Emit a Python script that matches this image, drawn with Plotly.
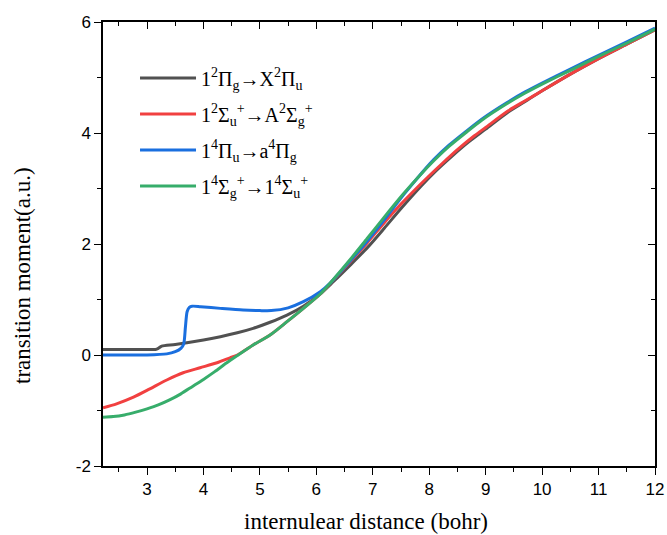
import plotly.graph_objects as go

# Transition dipole moments vs. internuclear distance (bohr)
r_pi2 = [2.22, 2.6, 3.0, 3.15, 3.2, 3.26, 3.5, 4.0, 4.3, 4.6, 4.88, 5.18, 5.48, 5.77, 6.07,
         6.3, 6.6, 6.9, 7.2, 7.5, 7.87, 8.1, 8.4, 8.7, 9.0, 9.4, 9.7, 10.0, 10.5, 11.0, 11.5, 12.0]
m_pi2 = [0.10, 0.10, 0.10, 0.10, 0.12, 0.16, 0.19, 0.27, 0.33, 0.40, 0.48, 0.59, 0.72, 0.88, 1.10,
         1.32, 1.62, 1.93, 2.28, 2.64, 3.06, 3.30, 3.58, 3.84, 4.07, 4.38, 4.57, 4.76, 5.06, 5.34,
         5.60, 5.86]

r_sig2 = [2.22, 2.46, 2.76, 3.05, 3.35, 3.64, 3.94, 4.24, 4.47, 4.6, 4.88, 5.18, 5.48, 5.77,
          6.07, 6.3, 6.6, 6.9, 7.2, 7.5, 7.69, 8.0, 8.23, 8.5, 8.8, 9.0, 9.4, 9.7, 10.0, 10.5,
          11.0, 11.5, 12.0]
m_sig2 = [-0.95, -0.88, -0.76, -0.61, -0.45, -0.32, -0.23, -0.14, -0.05, 0.0, 0.18, 0.36, 0.60,
          0.84, 1.10, 1.35, 1.68, 2.02, 2.38, 2.72, 2.92, 3.23, 3.45, 3.70, 3.95, 4.10, 4.40,
          4.58, 4.76, 5.06, 5.34, 5.60, 5.86]

r_pi4 = [2.22, 3.0, 3.35, 3.5, 3.6, 3.65, 3.68, 3.71, 3.75, 3.8, 3.95, 4.3, 4.7, 5.0, 5.2, 5.5,
         5.77, 6.07, 6.25, 6.5, 6.9, 7.2, 7.54, 7.8, 8.08, 8.35, 8.64, 8.93, 9.38, 9.7, 10.0,
         10.5, 11.0, 11.5, 12.0]
m_pi4 = [0.0, 0.0, 0.02, 0.06, 0.12, 0.20, 0.50, 0.78, 0.86, 0.88, 0.87, 0.84, 0.81, 0.80, 0.80,
         0.85, 0.96, 1.14, 1.30, 1.58, 2.05, 2.43, 2.88, 3.20, 3.52, 3.78, 4.02, 4.25, 4.55, 4.74,
         4.90, 5.15, 5.40, 5.64, 5.89]

r_sig4 = [2.22, 2.4, 2.6, 2.8, 3.0, 3.2, 3.4, 3.6, 3.8, 4.0, 4.2, 4.4, 4.6, 4.88, 5.18, 5.48,
          5.77, 6.07, 6.3, 6.6, 6.9, 7.2, 7.54, 7.8, 8.08, 8.35, 8.64, 8.93, 9.38, 9.7, 10.0,
          10.5, 11.0, 11.5, 12.0]
m_sig4 = [-1.12, -1.11, -1.08, -1.03, -0.97, -0.90, -0.81, -0.70, -0.57, -0.44, -0.30, -0.15,
          -0.01, 0.18, 0.36, 0.60, 0.84, 1.10, 1.36, 1.72, 2.10, 2.48, 2.90, 3.20, 3.50, 3.76,
          4.00, 4.23, 4.53, 4.72, 4.88, 5.13, 5.38, 5.62, 5.87]

labels = [
    "1<sup>2</sup>Π<sub>g</sub>→X<sup>2</sup>Π<sub>u</sub>",
    "1<sup>2</sup>Σ<sub>u</sub><sup>+</sup>→A<sup>2</sup>Σ<sub>g</sub><sup>+</sup>",
    "1<sup>4</sup>Π<sub>u</sub>→a<sup>4</sup>Π<sub>g</sub>",
    "1<sup>4</sup>Σ<sub>g</sub><sup>+</sup>→1<sup>4</sup>Σ<sub>u</sub><sup>+</sup>",
]
colors = ["#515151", "#F14040", "#1A6FDF", "#37AD6B"]

y_tickvals = [-2, 0, 2, 4, 6]
y_ticktext = ["-2", "0", "2", "4", "6"]

x_title = "internulear distance (bohr)"
y_title = "transition moment(a.u.)"

x_range = [2.22, 12]
y_range = [-2, 6]

fig = go.Figure()
for i, (r, m, name, c) in enumerate(zip([r_pi2, r_sig2, r_pi4, r_sig4],
                                        [m_pi2, m_sig2, m_pi4, m_sig4], labels, colors)):
    fig.add_trace(go.Scatter(x=r, y=m, mode="lines", name=name, legendgroup=f"g{i}",
                             line=dict(color=c, width=3, shape="spline", smoothing=0.7)))

# frame axes on top/right with inward ticks
fig.add_trace(go.Scatter(x=x_range, y=y_range, xaxis="x2", yaxis="y2", mode="lines",
                         line=dict(width=0), opacity=0, showlegend=False, hoverinfo="skip"))

tick_font = dict(family="Liberation Sans", size=17, color="black")
title_font = dict(family="Liberation Serif", size=23, color="black")

minor_x = dict(dtick=0.5, tick0=0, ticklen=4, tickcolor="black", tickwidth=1.3)
minor_y = dict(dtick=1, tick0=0, ticklen=4, tickcolor="black", tickwidth=1.3)
common = dict(ticklen=7, tickwidth=1.3, tickcolor="black", showline=True, linecolor="black",
              linewidth=1.5, showgrid=False, zeroline=False, automargin=False)

fig.update_layout(
    width=667, height=535,
    margin=dict(l=103, r=12, t=22, b=69),
    plot_bgcolor="white", paper_bgcolor="white",
    showlegend=True,
    legend=dict(x=0.058, y=0.918, xanchor="left", yanchor="top", itemwidth=56,
                bgcolor="rgba(0,0,0,0)", tracegroupgap=7,
                font=dict(family="Liberation Serif", size=20, color="black")),
    xaxis=dict(range=x_range, dtick=1, tick0=0, ticks="outside", tickfont=tick_font,
               minor=dict(ticks="outside", **minor_x), **common),
    yaxis=dict(range=y_range, tickmode="array", tickvals=y_tickvals, ticktext=y_ticktext,
               ticks="outside", tickfont=tick_font,
               minor=dict(ticks="outside", tickmode="linear", **minor_y), **common),
    xaxis2=dict(range=x_range, overlaying="x", side="top", dtick=1, tick0=0, ticks="inside",
                showticklabels=False, minor=dict(ticks="inside", **minor_x), **common),
    yaxis2=dict(range=y_range, overlaying="y", side="right", dtick=2, tick0=0, ticks="inside",
                showticklabels=False, minor=dict(ticks="inside", **minor_y), **common),
    annotations=[
        dict(text=x_title, xref="paper", yref="paper", x=0.476, y=-0.126,
             xanchor="center", yanchor="middle", showarrow=False, font=title_font),
        dict(text=y_title, xref="paper", yref="paper", x=-0.147, y=0.43,
             xanchor="center", yanchor="middle", showarrow=False, textangle=-90,
             font=title_font),
    ],
)

fig.write_html("out.html")
